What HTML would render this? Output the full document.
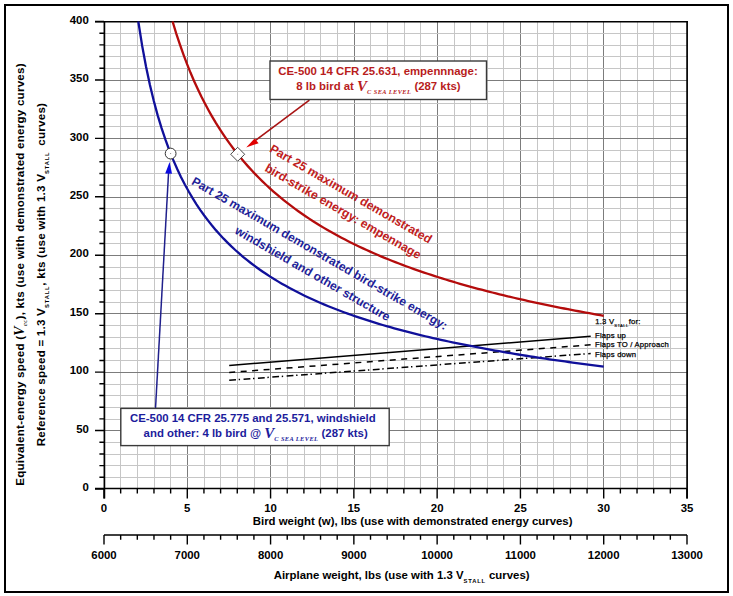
<!DOCTYPE html>
<html><head><meta charset="utf-8"><title>Bird strike energy chart</title>
<style>html,body{margin:0;padding:0;background:#fff;}svg{display:block;}</style></head>
<body><svg width="733" height="596" viewBox="0 0 733 596">
<rect width="733" height="596" fill="#fff"/>
<line x1="120.5" y1="22" x2="120.5" y2="489" stroke="#c6c6c6" stroke-width="1"/>
<line x1="137.5" y1="22" x2="137.5" y2="489" stroke="#c6c6c6" stroke-width="1"/>
<line x1="154.5" y1="22" x2="154.5" y2="489" stroke="#c6c6c6" stroke-width="1"/>
<line x1="170.5" y1="22" x2="170.5" y2="489" stroke="#c6c6c6" stroke-width="1"/>
<line x1="187.5" y1="22" x2="187.5" y2="489" stroke="#7c7c7c" stroke-width="1"/>
<line x1="204.5" y1="22" x2="204.5" y2="489" stroke="#c6c6c6" stroke-width="1"/>
<line x1="220.5" y1="22" x2="220.5" y2="489" stroke="#c6c6c6" stroke-width="1"/>
<line x1="237.5" y1="22" x2="237.5" y2="489" stroke="#c6c6c6" stroke-width="1"/>
<line x1="254.5" y1="22" x2="254.5" y2="489" stroke="#c6c6c6" stroke-width="1"/>
<line x1="270.5" y1="22" x2="270.5" y2="489" stroke="#7c7c7c" stroke-width="1"/>
<line x1="287.5" y1="22" x2="287.5" y2="489" stroke="#c6c6c6" stroke-width="1"/>
<line x1="304.5" y1="22" x2="304.5" y2="489" stroke="#c6c6c6" stroke-width="1"/>
<line x1="320.5" y1="22" x2="320.5" y2="489" stroke="#c6c6c6" stroke-width="1"/>
<line x1="337.5" y1="22" x2="337.5" y2="489" stroke="#c6c6c6" stroke-width="1"/>
<line x1="354.5" y1="22" x2="354.5" y2="489" stroke="#7c7c7c" stroke-width="1"/>
<line x1="370.5" y1="22" x2="370.5" y2="489" stroke="#c6c6c6" stroke-width="1"/>
<line x1="387.5" y1="22" x2="387.5" y2="489" stroke="#c6c6c6" stroke-width="1"/>
<line x1="404.5" y1="22" x2="404.5" y2="489" stroke="#c6c6c6" stroke-width="1"/>
<line x1="420.5" y1="22" x2="420.5" y2="489" stroke="#c6c6c6" stroke-width="1"/>
<line x1="437.5" y1="22" x2="437.5" y2="489" stroke="#7c7c7c" stroke-width="1"/>
<line x1="454.5" y1="22" x2="454.5" y2="489" stroke="#c6c6c6" stroke-width="1"/>
<line x1="470.5" y1="22" x2="470.5" y2="489" stroke="#c6c6c6" stroke-width="1"/>
<line x1="487.5" y1="22" x2="487.5" y2="489" stroke="#c6c6c6" stroke-width="1"/>
<line x1="503.5" y1="22" x2="503.5" y2="489" stroke="#c6c6c6" stroke-width="1"/>
<line x1="520.5" y1="22" x2="520.5" y2="489" stroke="#7c7c7c" stroke-width="1"/>
<line x1="537.5" y1="22" x2="537.5" y2="489" stroke="#c6c6c6" stroke-width="1"/>
<line x1="553.5" y1="22" x2="553.5" y2="489" stroke="#c6c6c6" stroke-width="1"/>
<line x1="570.5" y1="22" x2="570.5" y2="489" stroke="#c6c6c6" stroke-width="1"/>
<line x1="587.5" y1="22" x2="587.5" y2="489" stroke="#c6c6c6" stroke-width="1"/>
<line x1="603.5" y1="22" x2="603.5" y2="489" stroke="#7c7c7c" stroke-width="1"/>
<line x1="620.5" y1="22" x2="620.5" y2="489" stroke="#c6c6c6" stroke-width="1"/>
<line x1="637.5" y1="22" x2="637.5" y2="489" stroke="#c6c6c6" stroke-width="1"/>
<line x1="653.5" y1="22" x2="653.5" y2="489" stroke="#c6c6c6" stroke-width="1"/>
<line x1="670.5" y1="22" x2="670.5" y2="489" stroke="#c6c6c6" stroke-width="1"/>
<line x1="104" y1="477.5" x2="687" y2="477.5" stroke="#c6c6c6" stroke-width="1"/>
<line x1="104" y1="465.5" x2="687" y2="465.5" stroke="#c6c6c6" stroke-width="1"/>
<line x1="104" y1="454.5" x2="687" y2="454.5" stroke="#c6c6c6" stroke-width="1"/>
<line x1="104" y1="442.5" x2="687" y2="442.5" stroke="#c6c6c6" stroke-width="1"/>
<line x1="104" y1="430.5" x2="687" y2="430.5" stroke="#7c7c7c" stroke-width="1"/>
<line x1="104" y1="419.5" x2="687" y2="419.5" stroke="#c6c6c6" stroke-width="1"/>
<line x1="104" y1="407.5" x2="687" y2="407.5" stroke="#c6c6c6" stroke-width="1"/>
<line x1="104" y1="395.5" x2="687" y2="395.5" stroke="#c6c6c6" stroke-width="1"/>
<line x1="104" y1="384.5" x2="687" y2="384.5" stroke="#c6c6c6" stroke-width="1"/>
<line x1="104" y1="372.5" x2="687" y2="372.5" stroke="#7c7c7c" stroke-width="1"/>
<line x1="104" y1="360.5" x2="687" y2="360.5" stroke="#c6c6c6" stroke-width="1"/>
<line x1="104" y1="348.5" x2="687" y2="348.5" stroke="#c6c6c6" stroke-width="1"/>
<line x1="104" y1="337.5" x2="687" y2="337.5" stroke="#c6c6c6" stroke-width="1"/>
<line x1="104" y1="325.5" x2="687" y2="325.5" stroke="#c6c6c6" stroke-width="1"/>
<line x1="104" y1="313.5" x2="687" y2="313.5" stroke="#7c7c7c" stroke-width="1"/>
<line x1="104" y1="302.5" x2="687" y2="302.5" stroke="#c6c6c6" stroke-width="1"/>
<line x1="104" y1="290.5" x2="687" y2="290.5" stroke="#c6c6c6" stroke-width="1"/>
<line x1="104" y1="278.5" x2="687" y2="278.5" stroke="#c6c6c6" stroke-width="1"/>
<line x1="104" y1="267.5" x2="687" y2="267.5" stroke="#c6c6c6" stroke-width="1"/>
<line x1="104" y1="255.5" x2="687" y2="255.5" stroke="#7c7c7c" stroke-width="1"/>
<line x1="104" y1="243.5" x2="687" y2="243.5" stroke="#c6c6c6" stroke-width="1"/>
<line x1="104" y1="232.5" x2="687" y2="232.5" stroke="#c6c6c6" stroke-width="1"/>
<line x1="104" y1="220.5" x2="687" y2="220.5" stroke="#c6c6c6" stroke-width="1"/>
<line x1="104" y1="208.5" x2="687" y2="208.5" stroke="#c6c6c6" stroke-width="1"/>
<line x1="104" y1="197.5" x2="687" y2="197.5" stroke="#7c7c7c" stroke-width="1"/>
<line x1="104" y1="185.5" x2="687" y2="185.5" stroke="#c6c6c6" stroke-width="1"/>
<line x1="104" y1="173.5" x2="687" y2="173.5" stroke="#c6c6c6" stroke-width="1"/>
<line x1="104" y1="161.5" x2="687" y2="161.5" stroke="#c6c6c6" stroke-width="1"/>
<line x1="104" y1="150.5" x2="687" y2="150.5" stroke="#c6c6c6" stroke-width="1"/>
<line x1="104" y1="138.5" x2="687" y2="138.5" stroke="#7c7c7c" stroke-width="1"/>
<line x1="104" y1="126.5" x2="687" y2="126.5" stroke="#c6c6c6" stroke-width="1"/>
<line x1="104" y1="115.5" x2="687" y2="115.5" stroke="#c6c6c6" stroke-width="1"/>
<line x1="104" y1="103.5" x2="687" y2="103.5" stroke="#c6c6c6" stroke-width="1"/>
<line x1="104" y1="91.5" x2="687" y2="91.5" stroke="#c6c6c6" stroke-width="1"/>
<line x1="104" y1="80.5" x2="687" y2="80.5" stroke="#7c7c7c" stroke-width="1"/>
<line x1="104" y1="68.5" x2="687" y2="68.5" stroke="#c6c6c6" stroke-width="1"/>
<line x1="104" y1="56.5" x2="687" y2="56.5" stroke="#c6c6c6" stroke-width="1"/>
<line x1="104" y1="45.5" x2="687" y2="45.5" stroke="#c6c6c6" stroke-width="1"/>
<line x1="104" y1="33.5" x2="687" y2="33.5" stroke="#c6c6c6" stroke-width="1"/>
<path d="M95 21.7H687.9M95 488.6H687" stroke="#000" stroke-width="1.5" fill="none"/>
<path d="M104.4 21V498.6M687.1 21V498.6" stroke="#000" stroke-width="1.7" fill="none"/>
<path d="M95 489.00H104M99.4 477.31H104M99.4 465.62H104M99.4 453.94H104M99.4 442.25H104M95 430.56H104M99.4 418.88H104M99.4 407.19H104M99.4 395.50H104M99.4 383.81H104M95 372.12H104M99.4 360.44H104M99.4 348.75H104M99.4 337.06H104M99.4 325.38H104M95 313.69H104M99.4 302.00H104M99.4 290.31H104M99.4 278.62H104M99.4 266.94H104M95 255.25H104M99.4 243.56H104M99.4 231.88H104M99.4 220.19H104M99.4 208.50H104M95 196.81H104M99.4 185.12H104M99.4 173.44H104M99.4 161.75H104M99.4 150.06H104M95 138.38H104M99.4 126.69H104M99.4 115.00H104M99.4 103.31H104M99.4 91.62H104M95 79.94H104M99.4 68.25H104M99.4 56.56H104M99.4 44.88H104M99.4 33.19H104M95 21.50H104M104.00 489V498.6M120.66 489V493.6M137.31 489V493.6M153.97 489V493.6M170.63 489V493.6M187.29 489V498.6M203.94 489V493.6M220.60 489V493.6M237.26 489V493.6M253.91 489V493.6M270.57 489V498.6M287.23 489V493.6M303.89 489V493.6M320.54 489V493.6M337.20 489V493.6M353.86 489V498.6M370.51 489V493.6M387.17 489V493.6M403.83 489V493.6M420.49 489V493.6M437.14 489V498.6M453.80 489V493.6M470.46 489V493.6M487.11 489V493.6M503.77 489V493.6M520.43 489V498.6M537.09 489V493.6M553.74 489V493.6M570.40 489V493.6M587.06 489V493.6M603.71 489V498.6M620.37 489V493.6M637.03 489V493.6M653.69 489V493.6M670.34 489V493.6M687.00 489V498.6" stroke="#000" stroke-width="1.4" fill="none"/>
<path d="M104 535H687M104.00 535V544.4M120.66 535V539.8M137.31 535V539.8M153.97 535V539.8M170.63 535V539.8M187.29 535V544.4M203.94 535V539.8M220.60 535V539.8M237.26 535V539.8M253.91 535V539.8M270.57 535V544.4M287.23 535V539.8M303.89 535V539.8M320.54 535V539.8M337.20 535V539.8M353.86 535V544.4M370.51 535V539.8M387.17 535V539.8M403.83 535V539.8M420.49 535V539.8M437.14 535V544.4M453.80 535V539.8M470.46 535V539.8M487.11 535V539.8M503.77 535V539.8M520.43 535V544.4M537.09 535V539.8M553.74 535V539.8M570.40 535V539.8M587.06 535V539.8M603.71 535V544.4M620.37 535V539.8M637.03 535V539.8M653.69 535V539.8M670.34 535V539.8M687.00 535V544.4" stroke="#000" stroke-width="1.4" fill="none"/>
<text x="88.8" y="491.20" text-anchor="end" style="font-family:'Liberation Sans', sans-serif;font-weight:bold;font-size:11.4px;fill:#000">0</text>
<text x="88.8" y="432.76" text-anchor="end" style="font-family:'Liberation Sans', sans-serif;font-weight:bold;font-size:11.4px;fill:#000">50</text>
<text x="88.8" y="374.32" text-anchor="end" style="font-family:'Liberation Sans', sans-serif;font-weight:bold;font-size:11.4px;fill:#000">100</text>
<text x="88.8" y="315.89" text-anchor="end" style="font-family:'Liberation Sans', sans-serif;font-weight:bold;font-size:11.4px;fill:#000">150</text>
<text x="88.8" y="257.45" text-anchor="end" style="font-family:'Liberation Sans', sans-serif;font-weight:bold;font-size:11.4px;fill:#000">200</text>
<text x="88.8" y="199.01" text-anchor="end" style="font-family:'Liberation Sans', sans-serif;font-weight:bold;font-size:11.4px;fill:#000">250</text>
<text x="88.8" y="140.57" text-anchor="end" style="font-family:'Liberation Sans', sans-serif;font-weight:bold;font-size:11.4px;fill:#000">300</text>
<text x="88.8" y="82.14" text-anchor="end" style="font-family:'Liberation Sans', sans-serif;font-weight:bold;font-size:11.4px;fill:#000">350</text>
<text x="88.8" y="23.70" text-anchor="end" style="font-family:'Liberation Sans', sans-serif;font-weight:bold;font-size:11.4px;fill:#000">400</text>
<text x="104.00" y="512.4" text-anchor="middle" style="font-family:'Liberation Sans', sans-serif;font-weight:bold;font-size:11.4px;fill:#000">0</text>
<text x="187.29" y="512.4" text-anchor="middle" style="font-family:'Liberation Sans', sans-serif;font-weight:bold;font-size:11.4px;fill:#000">5</text>
<text x="270.57" y="512.4" text-anchor="middle" style="font-family:'Liberation Sans', sans-serif;font-weight:bold;font-size:11.4px;fill:#000">10</text>
<text x="353.86" y="512.4" text-anchor="middle" style="font-family:'Liberation Sans', sans-serif;font-weight:bold;font-size:11.4px;fill:#000">15</text>
<text x="437.14" y="512.4" text-anchor="middle" style="font-family:'Liberation Sans', sans-serif;font-weight:bold;font-size:11.4px;fill:#000">20</text>
<text x="520.43" y="512.4" text-anchor="middle" style="font-family:'Liberation Sans', sans-serif;font-weight:bold;font-size:11.4px;fill:#000">25</text>
<text x="603.71" y="512.4" text-anchor="middle" style="font-family:'Liberation Sans', sans-serif;font-weight:bold;font-size:11.4px;fill:#000">30</text>
<text x="687.00" y="512.4" text-anchor="middle" style="font-family:'Liberation Sans', sans-serif;font-weight:bold;font-size:11.4px;fill:#000">35</text>
<text x="104.00" y="559" text-anchor="middle" style="font-family:'Liberation Sans', sans-serif;font-weight:bold;font-size:11.4px;fill:#000">6000</text>
<text x="187.29" y="559" text-anchor="middle" style="font-family:'Liberation Sans', sans-serif;font-weight:bold;font-size:11.4px;fill:#000">7000</text>
<text x="270.57" y="559" text-anchor="middle" style="font-family:'Liberation Sans', sans-serif;font-weight:bold;font-size:11.4px;fill:#000">8000</text>
<text x="353.86" y="559" text-anchor="middle" style="font-family:'Liberation Sans', sans-serif;font-weight:bold;font-size:11.4px;fill:#000">9000</text>
<text x="437.14" y="559" text-anchor="middle" style="font-family:'Liberation Sans', sans-serif;font-weight:bold;font-size:11.4px;fill:#000">10000</text>
<text x="520.43" y="559" text-anchor="middle" style="font-family:'Liberation Sans', sans-serif;font-weight:bold;font-size:11.4px;fill:#000">11000</text>
<text x="603.71" y="559" text-anchor="middle" style="font-family:'Liberation Sans', sans-serif;font-weight:bold;font-size:11.4px;fill:#000">12000</text>
<text x="687.00" y="559" text-anchor="middle" style="font-family:'Liberation Sans', sans-serif;font-weight:bold;font-size:11.4px;fill:#000">13000</text>
<text x="252.8" y="524.6" style="font-family:'Liberation Sans', sans-serif;font-weight:bold;font-size:11.4px;fill:#000">Bird weight (w), lbs (use with demonstrated energy curves)</text>
<text x="273.7" y="579" style="font-family:'Liberation Sans', sans-serif;font-weight:bold;font-size:11.4px;fill:#000">Airplane weight, lbs (use with 1.3 V<tspan dy="4" style="font-size:5.8px;letter-spacing:0.8px">STALL</tspan><tspan dy="-4"> curves)</tspan></text>
<text transform="translate(24.3,485.8) rotate(-90)" style="font-family:'Liberation Sans', sans-serif;font-weight:bold;font-size:11.6px;fill:#000;letter-spacing:0.23px">Equivalent-energy speed (<tspan style="font-family:'Liberation Serif', serif;font-style:italic;font-weight:bold;font-size:14px">V</tspan><tspan dy="3" style="font-family:'Liberation Serif', serif;font-style:italic;font-weight:normal;font-size:7px">ec</tspan><tspan dy="-3">), kts (use with demonstrated energy curves)</tspan></text>
<text transform="translate(44.7,446.3) rotate(-90)" style="font-family:'Liberation Sans', sans-serif;font-weight:bold;font-size:11.6px;fill:#000;letter-spacing:0.23px">Reference speed = 1.3 V<tspan dy="4" style="font-size:5.8px;letter-spacing:0.8px">STALL</tspan><tspan dy="-4">, kts (use with 1.3 V</tspan><tspan dy="4" style="font-size:5.8px;letter-spacing:0.8px">STALL</tspan><tspan dy="-4" dx="2.5"> curves)</tspan></text>
<line x1="229.2" y1="365.5" x2="590.7" y2="336.2" stroke="#000" stroke-width="1.5"/>
<line x1="229.2" y1="372.5" x2="590.7" y2="344.8" stroke="#000" stroke-width="1.5" stroke-dasharray="6 5.5"/>
<line x1="229.2" y1="380.3" x2="590.7" y2="353.5" stroke="#000" stroke-width="1.5" stroke-dasharray="6.8 2.7 1.4 3.5"/>
<path d="M172.60,21.50 L176.19,33.28 L179.79,44.21 L183.38,54.39 L186.97,63.91 L190.56,72.82 L194.16,81.20 L197.75,89.09 L201.34,96.54 L204.94,103.59 L208.53,110.27 L212.12,116.61 L215.71,122.65 L219.31,128.40 L222.90,133.89 L226.49,139.14 L230.08,144.16 L233.68,148.97 L237.27,153.58 L240.86,158.01 L244.45,162.28 L248.05,166.38 L251.64,170.32 L255.23,174.13 L258.82,177.81 L262.42,181.36 L266.01,184.79 L269.60,188.10 L273.19,191.32 L276.79,194.43 L280.38,197.44 L283.97,200.37 L287.56,203.21 L291.16,205.96 L294.75,208.64 L298.34,211.24 L301.94,213.78 L305.53,216.24 L309.12,218.64 L312.71,220.98 L316.31,223.25 L319.90,225.47 L323.49,227.64 L327.08,229.75 L330.68,231.81 L334.27,233.83 L337.86,235.80 L341.45,237.72 L345.05,239.60 L348.64,241.44 L352.23,243.24 L355.82,244.99 L359.42,246.72 L363.01,248.40 L366.60,250.05 L370.19,251.67 L373.79,253.26 L377.38,254.81 L380.97,256.34 L384.57,257.83 L388.16,259.30 L391.75,260.73 L395.34,262.15 L398.94,263.53 L402.53,264.89 L406.12,266.23 L409.71,267.54 L413.31,268.83 L416.90,270.10 L420.49,271.35 L424.08,272.57 L427.68,273.77 L431.27,274.96 L434.86,276.12 L438.45,277.27 L442.05,278.40 L445.64,279.51 L449.23,280.60 L452.82,281.68 L456.42,282.74 L460.01,283.78 L463.60,284.81 L467.20,285.82 L470.79,286.82 L474.38,287.80 L477.97,288.77 L481.57,289.73 L485.16,290.67 L488.75,291.59 L492.34,292.51 L495.94,293.41 L499.53,294.30 L503.12,295.18 L506.71,296.05 L510.31,296.90 L513.90,297.75 L517.49,298.58 L521.08,299.40 L524.68,300.21 L528.27,301.01 L531.86,301.80 L535.45,302.58 L539.05,303.36 L542.64,304.12 L546.23,304.87 L549.83,305.61 L553.42,306.35 L557.01,307.07 L560.60,307.79 L564.20,308.50 L567.79,309.20 L571.38,309.89 L574.97,310.58 L578.57,311.25 L582.16,311.92 L585.75,312.58 L589.34,313.24 L592.94,313.89 L596.53,314.53 L600.12,315.16 L603.71,315.78" stroke="#b40c0c" stroke-width="2.3" fill="none"/>
<path d="M138.30,21.50 L142.18,45.88 L146.06,66.81 L149.94,85.02 L153.81,101.07 L157.69,115.34 L161.57,128.15 L165.45,139.72 L169.33,150.25 L173.21,159.88 L177.09,168.73 L180.96,176.90 L184.84,184.48 L188.72,191.53 L192.60,198.12 L196.48,204.28 L200.36,210.07 L204.23,215.52 L208.11,220.66 L211.99,225.52 L215.87,230.13 L219.75,234.51 L223.63,238.67 L227.51,242.63 L231.38,246.41 L235.26,250.02 L239.14,253.47 L243.02,256.78 L246.90,259.95 L250.78,263.00 L254.65,265.93 L258.53,268.75 L262.41,271.46 L266.29,274.07 L270.17,276.60 L274.05,279.03 L277.92,281.39 L281.80,283.66 L285.68,285.87 L289.56,288.00 L293.44,290.07 L297.32,292.08 L301.20,294.02 L305.07,295.91 L308.95,297.75 L312.83,299.53 L316.71,301.27 L320.59,302.96 L324.47,304.60 L328.34,306.20 L332.22,307.76 L336.10,309.28 L339.98,310.76 L343.86,312.21 L347.74,313.62 L351.62,315.00 L355.49,316.35 L359.37,317.66 L363.25,318.95 L367.13,320.21 L371.01,321.44 L374.89,322.64 L378.76,323.82 L382.64,324.98 L386.52,326.10 L390.40,327.21 L394.28,328.30 L398.16,329.36 L402.04,330.40 L405.91,331.42 L409.79,332.43 L413.67,333.41 L417.55,334.37 L421.43,335.32 L425.31,336.25 L429.18,337.17 L433.06,338.06 L436.94,338.95 L440.82,339.81 L444.70,340.66 L448.58,341.50 L452.45,342.32 L456.33,343.13 L460.21,343.93 L464.09,344.71 L467.97,345.48 L471.85,346.24 L475.73,346.99 L479.60,347.72 L483.48,348.45 L487.36,349.16 L491.24,349.86 L495.12,350.55 L499.00,351.24 L502.87,351.91 L506.75,352.57 L510.63,353.22 L514.51,353.86 L518.39,354.50 L522.27,355.12 L526.15,355.74 L530.02,356.35 L533.90,356.95 L537.78,357.54 L541.66,358.12 L545.54,358.70 L549.42,359.27 L553.29,359.83 L557.17,360.38 L561.05,360.93 L564.93,361.47 L568.81,362.00 L572.69,362.53 L576.57,363.05 L580.44,363.56 L584.32,364.07 L588.20,364.57 L592.08,365.07 L595.96,365.56 L599.84,366.04 L603.71,366.52" stroke="#10109a" stroke-width="2.3" fill="none"/>
<text x="595.3" y="324" style="font-family:'Liberation Sans', sans-serif;font-size:7.7px;fill:#000;stroke:#000;stroke-width:0.25px;letter-spacing:0.2px">1.3 V<tspan dy="3.3" style="font-size:4.2px;letter-spacing:0.4px;stroke-width:0.15px">STALL</tspan><tspan dy="-3" x="628.7">for:</tspan></text>
<text x="595" y="337.5" style="font-family:'Liberation Sans', sans-serif;font-size:7.7px;fill:#000;stroke:#000;stroke-width:0.25px;letter-spacing:0.2px">Flaps up</text>
<text x="595" y="347" style="font-family:'Liberation Sans', sans-serif;font-size:7.7px;fill:#000;stroke:#000;stroke-width:0.25px;letter-spacing:0.2px">Flaps TO / Approach</text>
<text x="595" y="357" style="font-family:'Liberation Sans', sans-serif;font-size:7.7px;fill:#000;stroke:#000;stroke-width:0.25px;letter-spacing:0.2px">Flaps down</text>
<line x1="155.5" y1="408.5" x2="168.6" y2="172" stroke="#20208c" stroke-width="1.5"/>
<path d="M169.6 162 L172 173.8 L165.2 173.4 Z" fill="#0a0ae0"/>
<line x1="309.4" y1="100.2" x2="252" y2="143" stroke="#a81414" stroke-width="1.6"/>
<path d="M246.2 147.4 L254.6 138.6 L258.6 143.2 Z" fill="#e00000"/>
<circle cx="170.63" cy="153.57" r="5.4" fill="#fff" stroke="#333" stroke-width="1.0"/>
<path d="M237.66 147.27L244.66 154.27L237.66 161.27L230.66 154.27Z" fill="#fff" stroke="#333" stroke-width="0.9"/>
<rect x="237.16" y="153.77" width="1" height="1" fill="#888"/>
<rect x="170.13" y="153.07" width="1" height="1" fill="#888"/>
<rect x="270" y="61" width="216.5" height="38.5" fill="#fff" stroke="#3a3a3a" stroke-width="1.4"/>
<text x="278.3" y="74.6" style="font-family:'Liberation Sans', sans-serif;font-weight:bold;font-size:11.4px;fill:#b81c1c">CE-500 14 CFR 25.631, empennnage:</text>
<text x="296.3" y="89.8" style="font-family:'Liberation Sans', sans-serif;font-weight:bold;font-size:11.4px;fill:#b81c1c">8 lb bird at <tspan dy="1" style="font-family:'Liberation Serif', serif;font-style:italic;font-weight:bold;font-size:15px">V</tspan><tspan dy="2.8" style="font-family:'Liberation Serif', serif;font-style:italic;font-weight:bold;font-size:6.3px;letter-spacing:0.45px">C SEA LEVEL</tspan><tspan dy="-3.8"> (287 kts)</tspan></text>
<rect x="120.8" y="408.4" width="268.4" height="37.2" fill="#fff" stroke="#3a3a3a" stroke-width="1.4"/>
<text x="130" y="421.5" style="font-family:'Liberation Sans', sans-serif;font-weight:bold;font-size:11.4px;fill:#1c1c9c">CE-500 14 CFR 25.775 and 25.571, windshield</text>
<text x="143.6" y="437" style="font-family:'Liberation Sans', sans-serif;font-weight:bold;font-size:11.4px;fill:#1c1c9c">and other: 4 lb bird @ <tspan dy="1" style="font-family:'Liberation Serif', serif;font-style:italic;font-weight:bold;font-size:15px">V</tspan><tspan dy="2.8" style="font-family:'Liberation Serif', serif;font-style:italic;font-weight:bold;font-size:6.3px;letter-spacing:0.45px">C SEA LEVEL</tspan><tspan dy="-3.8"> (287 kts)</tspan></text>
<text transform="translate(268.7,151.3) rotate(30)" style="font-family:'Liberation Sans', sans-serif;font-weight:bold;font-size:12.2px;fill:#c02020">Part 25 maximum demonstrated</text>
<text transform="translate(263.9,170.4) rotate(30)" style="font-family:'Liberation Sans', sans-serif;font-weight:bold;font-size:12.2px;fill:#c02020">bird-strike energy: empennage</text>
<text transform="translate(190.7,183.7) rotate(30)" style="font-family:'Liberation Sans', sans-serif;font-weight:bold;font-size:12.1px;fill:#1e1e98">Part 25 maximum demonstrated bird-strike energy:</text>
<text transform="translate(234,233) rotate(30)" style="font-family:'Liberation Sans', sans-serif;font-weight:bold;font-size:12.1px;fill:#1e1e98">windshield and other structure</text>
<rect x="5" y="5" width="723" height="587" fill="none" stroke="#000" stroke-width="2"/>
</svg></body></html>
